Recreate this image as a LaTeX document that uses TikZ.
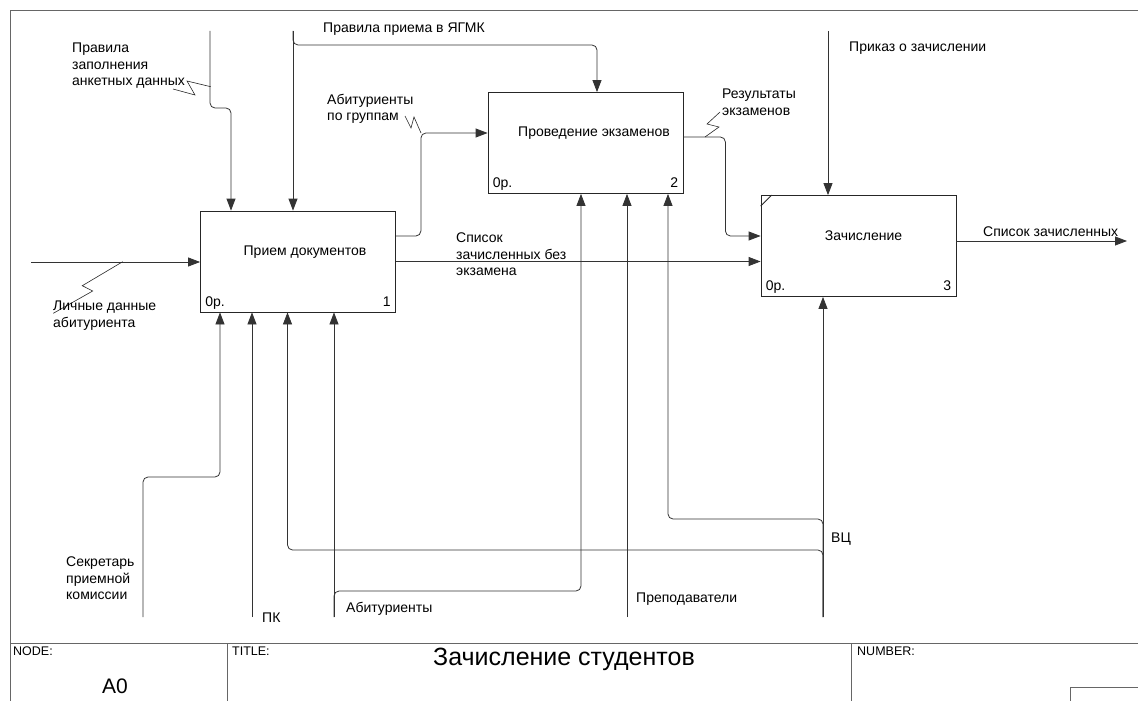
\documentclass[tikz,border=0pt]{standalone}
\usepackage{fontspec}
\setmainfont{Liberation Sans}
\usetikzlibrary{arrows.meta}
\newcommand\lblfont{\fontsize{14}{16.5}\selectfont}

\begin{document}
\begin{tikzpicture}[
  x=1pt, y=-1pt,
  >={Triangle[length=12pt, width=9pt]},
  func/.style={draw=black!85, line width=0.8pt, minimum width=195pt, minimum height=101pt, inner sep=0pt},
  arr/.style={->, line width=0.8pt, black!80, rounded corners=5pt},
  zig/.style={line width=0.6pt, black!85},
  lbl/.style={anchor=north west, inner sep=0pt, align=left},
  corner/.style={inner sep=0pt},
  sheet/.style={line width=0.8pt, black!60},
  every node/.style={font=\lblfont}
]
  \useasboundingbox (0,0) rectangle (1138,701);

  \node[func] (A1) at (298,261.5) {};
  \node[func] (A2) at (585.5,143) {};
  \node[func] (A3) at (858.5,246) {};
  \draw[line width=0.8pt, black!85] ([yshift=-11pt]A3.north west) -- ([xshift=11pt]A3.north west);

  \node (t1) at ([shift={(7,-9.5)}]A1.center) {Прием документов};
  \node (t2) at ([shift={(8.5,-10)}]A2.center) {Проведение экзаменов};
  \node (t3) at ([shift={(5,-10)}]A3.center) {Зачисление};

  \node[corner, anchor=base west] (p1) at ([shift={(5,-6)}]A1.south west) {0р.};
  \node[corner, anchor=base east] (k1) at ([shift={(-5,-6)}]A1.south east) {1};
  \node[corner, anchor=base west] (p2) at ([shift={(5,-6)}]A2.south west) {0р.};
  \node[corner, anchor=base east] (k2) at ([shift={(-5,-6)}]A2.south east) {2};
  \node[corner, anchor=base west] (p3) at ([shift={(5,-6)}]A3.south west) {0р.};
  \node[corner, anchor=base east] (k3) at ([shift={(-5,-6)}]A3.south east) {3};

  \coordinate (inA) at (31,262);
  \coordinate (ctlA) at (210,31);
  \coordinate (ctlB) at (293,31);
  \coordinate (ctlC) at (828,31);
  \coordinate (mSec) at (143,617);
  \coordinate (mPK) at (252,617);
  \coordinate (mAb) at (334,617);
  \coordinate (mPr) at (627,617);
  \coordinate (mVC) at (823,617);
  \coordinate (outA) at (1127,241);

  % inputs and outputs
  \draw[arr] (inA) -- (inA -| A1.west);
  \draw[arr] ([yshift=25.5pt]A1.east) -- ++(25,0) |- ([yshift=10pt]A2.west);
  \draw[arr] (A1.east) -- (A1.east -| A3.west);
  \draw[arr] ([yshift=6pt]A2.east) -- ++(42,0) |- ([yshift=10pt]A3.west);
  \draw[arr] ([yshift=5pt]A3.east) -- (outA);

  % controls
  \draw[arr] (ctlA) -- ++(0,77) -| ([xshift=-67pt]A1.north);
  \draw[arr] (ctlB) -- (ctlB |- A1.north);
  \draw[arr] (ctlB) -- ++(0,14) -| ([xshift=11.5pt]A2.north);
  \draw[arr] (ctlC) -- (ctlC |- A3.north);

  % mechanisms
  \draw[arr] (mSec) -- ++(0,-140) -| ([xshift=-78pt]A1.south);
  \draw[arr] (mPK) -- (mPK |- A1.south);
  \draw[arr] (mAb) -- (mAb |- A1.south);
  \draw[arr] (mAb) -- ++(0,-26) -| ([xshift=-4.5pt]A2.south);
  \draw[arr] (mPr) -- (mPr |- A2.south);
  \draw[arr] (mVC) -- (mVC |- A3.south);
  \draw[arr] (mVC) -- ++(0,-98) -| ([xshift=82.5pt]A2.south);
  \draw[arr] (mVC) -- ++(0,-67) -| ([xshift=-10.5pt]A1.south);

  \draw[zig] (122.7,261.7) -- (82.3,285.7) -- (92.7,291) -- (53.3,313.3);
  \draw[zig] (210.7,86.7) -- (187,81) -- (195,95) -- (173,89);
  \draw[zig] (405,116) -- (411,128) -- (414,117) -- (421,133);
  \draw[zig] (720,112) -- (707,124) -- (719,127) -- (705,137);

  \node[lbl] (lRules) at (72,43) {Правила\\заполнения\\анкетных данных};
  \node[lbl] (lYagmk) at (323,23) {Правила приема в ЯГМК};
  \node[lbl] (lGroups) at (327,94) {Абитуриенты\\по группам};
  \node[lbl] (lNoExam) at (456,233) {Список\\зачисленных без\\экзамена};
  \node[lbl] (lResults) at (722,89) {Результаты\\экзаменов};
  \node[lbl] (lOrder) at (849,42) {Приказ о зачислении};
  \node[lbl] (lList) at (983,227) {Список зачисленных};
  \node[lbl] (lPersonal) at (53,301) {Личные данные\\абитуриента};
  \node[lbl] (lSec) at (66,557) {Секретарь\\приемной\\комиссии};
  \node[lbl] (lPK) at (262,613) {ПК};
  \node[lbl] (lAb) at (346,602) {Абитуриенты};
  \node[lbl] (lPr) at (636,593) {Преподаватели};
  \node[lbl] (lVC) at (831,533) {ВЦ};

  % title block
  \draw[sheet] (10,701) -- (10,10) -- (1138,10);
  \draw[sheet] (10,643) -- (1138,643);
  \draw[sheet] (227,643) -- (227,701);
  \draw[sheet] (851,643) -- (851,701);
  \draw[sheet] (1070,701) -- (1070,687) -- (1138,687);

  \node[lbl, font=\fontsize{12.5}{15}\selectfont] (hNode) at (13,647) {NODE:};
  \node[lbl, font=\fontsize{12.5}{15}\selectfont] (hTitle) at (232,647) {TITLE:};
  \node[lbl, font=\fontsize{12.5}{15}\selectfont] (hNumber) at (857,647) {NUMBER:};
  \node[inner sep=0pt, anchor=base, font=\fontsize{21}{24}\selectfont] (vNode) at (115,693) {A0};
  \node[inner sep=0pt, anchor=base west, font=\fontsize{25}{29}\selectfont] (vTitle) at (433,665) {Зачисление студентов};
\end{tikzpicture}
\end{document}
